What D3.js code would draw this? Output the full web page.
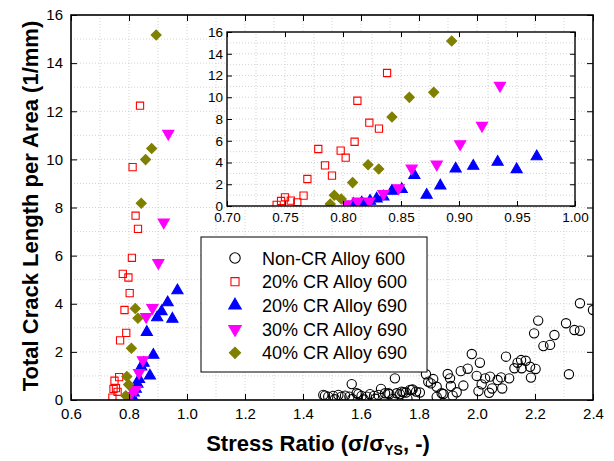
<!DOCTYPE html>
<html lang="en">
<head>
<meta charset="UTF-8">
<title>Crack length vs stress ratio</title>
<script src="https://d3js.org/d3.v7.min.js"></script>
<style>
  body { margin: 0; background: #fff; }
  text { font-family: "Liberation Sans", Arial, sans-serif; }
</style>
</head>
<body>
<div id="chart"></div>
<script>
// Non-CR Alloy 600 (open circles)
var nonCrX = [1.470,1.476,1.487,1.504,1.522,1.533,1.545,1.560,1.568,1.585,1.591,1.602,1.620,1.631,1.645,1.660,1.669,1.683,1.694,1.698,1.717,1.723,1.734,1.740,1.746,1.755,1.769,1.775,1.778,1.790,1.803,1.824,1.832,1.841,1.849,1.861,1.861,1.878,1.884,1.899,1.907,1.910,1.916,1.930,1.944,1.953,1.968,1.982,1.999,2.005,2.010,2.016,2.028,2.042,2.045,2.052,2.071,2.083,2.087,2.100,2.111,2.129,2.140,2.152,2.154,2.168,2.183,2.186,2.197,2.202,2.211,2.229,2.252,2.267,2.307,2.317,2.336,2.355,2.355,2.400,1.51,1.57,1.61,1.65,1.71,1.76];
var nonCrY = [0.21,0.18,0.14,0.17,0.21,0.14,0.18,0.14,0.66,0.28,0.24,0.17,0.14,0.24,0.17,0.21,0.46,0.28,0.28,0.24,0.90,0.28,0.24,0.35,0.32,0.31,0.42,0.42,0.44,0.35,0.31,1.07,0.76,0.69,0.87,0.55,0.13,0.28,0.25,1.08,0.90,0.58,0.18,0.32,1.20,0.60,1.30,1.91,1.00,0.37,1.55,0.65,0.90,0.30,0.97,0.48,0.83,0.94,0.48,1.80,0.90,1.32,1.55,1.66,1.32,1.63,1.38,0.93,2.77,1.29,3.30,2.24,2.29,2.70,3.19,1.07,2.91,2.88,4.02,3.74,0.03,0.04,0.02,0.05,0.04,0.06];

// 20% CR Alloy 600 (open squares)
var cr20a600X = [0.7428,0.7466,0.7500,0.7550,0.7606,0.7660,0.7693,0.7787,0.7845,0.7905,0.7980,0.8023,0.8100,0.8124,0.8227,0.8310,0.8380];
var cr20a600Y = [0.10,0.46,0.80,0.49,0.34,0.95,2.48,5.24,3.74,2.79,5.09,4.44,5.91,9.68,7.66,7.11,12.23];

// 20% CR Alloy 690 (up triangles)
var cr20a690X = [0.8089,0.8161,0.8233,0.8290,0.8348,0.8422,0.8506,0.8615,0.8721,0.8839,0.8971,0.9123,0.9333,0.9497,0.9670];
var cr20a690Y = [0.18,0.30,0.46,0.67,0.86,1.38,1.54,2.82,1.01,1.87,3.43,3.68,4.05,3.37,4.55];

// 30% CR Alloy 690 (down triangles)
var cr30a690X = [0.8032,0.8127,0.8227,0.8348,0.8480,0.8592,0.8808,0.9010,0.9198,0.9353];
var cr30a690Y = [0.18,0.43,0.43,1.13,1.66,3.46,3.83,5.70,7.39,11.07];

// 40% CR Alloy 690 (diamonds)
var cr40a690X = [0.7890,0.7925,0.7985,0.8083,0.8216,0.8308,0.8422,0.8572,0.8782,0.8937];
var cr40a690Y = [0.18,0.98,0.64,2.15,3.80,3.40,8.18,9.99,10.45,15.17];

var mainXTicks = [0.6,0.8,1.0,1.2,1.4,1.6,1.8,2.0,2.2,2.4];
var yTicks = [0,2,4,6,8,10,12,14,16];
var insetXTicks = [0.70,0.75,0.80,0.85,0.90,0.95,1.00];

var series = [
  {name: "Non-CR Alloy 600", xs: nonCrX, ys: nonCrY, shape: d3.symbolCircle, size: 68, rot: 0, fill: "none", stroke: "#000000"},
  {name: "20% CR Alloy 600", xs: cr20a600X, ys: cr20a600Y, shape: d3.symbolSquare, size: 52, rot: 0, fill: "none", stroke: "#ff0000"},
  {name: "20% CR Alloy 690", xs: cr20a690X, ys: cr20a690Y, shape: d3.symbolTriangle, size: 54, rot: 0, fill: "#0000ff", stroke: "#0000ff"},
  {name: "30% CR Alloy 690", xs: cr30a690X, ys: cr30a690Y, shape: d3.symbolTriangle, size: 54, rot: 180, fill: "#ff00ff", stroke: "#ff00ff"},
  {name: "40% CR Alloy 690", xs: cr40a690X, ys: cr40a690Y, shape: d3.symbolSquare, size: 50, rot: 45, fill: "#808000", stroke: "#808000"}
];

var width = 614, height = 461;
var svg = d3.select("#chart").append("svg")
  .attr("width", width).attr("height", height);

// draws one framed panel: grid, ticks on all sides, markers
function panel(g, x, y, opt) {
  var x0 = x.range()[0], x1 = x.range()[1], y0 = y.range()[0], y1 = y.range()[1];
  var id = opt.id;

  g.append("rect").attr("x", x0).attr("y", y1).attr("width", x1 - x0).attr("height", y0 - y1)
    .attr("fill", "#fff");

  // dotted grid at minor steps
  g.append("g").selectAll("line").data(opt.xGrid).enter().append("line")
    .attr("x1", d => x(d)).attr("x2", d => x(d)).attr("y1", y0).attr("y2", y1)
    .attr("stroke", "#c8c8c8").attr("stroke-width", 0.8).attr("stroke-dasharray", "1,2");
  g.append("g").selectAll("line").data(opt.yGrid).enter().append("line")
    .attr("y1", d => y(d)).attr("y2", d => y(d)).attr("x1", x0).attr("x2", x1)
    .attr("stroke", "#c8c8c8").attr("stroke-width", 0.8).attr("stroke-dasharray", "1,2");

  svg.append("clipPath").attr("id", id).append("rect")
    .attr("x", x0).attr("y", y1).attr("width", x1 - x0).attr("height", y0 - y1);

  var marks = g.append("g").attr("clip-path", "url(#" + id + ")");
  series.forEach(function(s) {
    var pts = s.xs.map((v, i) => [v, s.ys[i]]).filter(p => p[0] >= x.domain()[0] - 0.05 && p[0] <= x.domain()[1] + 0.05);
    marks.append("g").selectAll("path").data(pts).enter().append("path")
      .attr("d", d3.symbol().type(s.shape).size(s.size * opt.scale))
      .attr("transform", d => "translate(" + x(d[0]) + "," + y(d[1]) + ") rotate(" + s.rot + ")")
      .attr("fill", s.fill).attr("stroke", s.stroke).attr("stroke-width", 1.1);
  });

  var T = opt.tick;
  function axis(gen, scale, ticks, size, fmt, pad) {
    return gen(scale).tickValues(ticks).tickSizeInner(-size).tickSizeOuter(0).tickPadding(pad).tickFormat(fmt);
  }
  var bottom = g.append("g").attr("transform", "translate(0," + y0 + ")");
  bottom.call(axis(d3.axisBottom, x, opt.xMinor, T / 2, "", 0));
  bottom.call(axis(d3.axisBottom, x, opt.xMajor, T, opt.fmtX, opt.padX));
  var top = g.append("g").attr("transform", "translate(0," + y1 + ")");
  top.call(axis(d3.axisTop, x, opt.xMinor, T / 2, "", 0));
  top.call(axis(d3.axisTop, x, opt.xMajor, T, "", 0));
  var left = g.append("g").attr("transform", "translate(" + x0 + ",0)");
  left.call(axis(d3.axisLeft, y, opt.yMinor, T / 2, "", 0));
  left.call(axis(d3.axisLeft, y, yTicks, T, d3.format("d"), opt.padY));
  var right = g.append("g").attr("transform", "translate(" + x1 + ",0)");
  right.call(axis(d3.axisRight, y, opt.yMinor, T / 2, "", 0));
  right.call(axis(d3.axisRight, y, yTicks, T, "", 0));

  g.selectAll(".tick line").attr("stroke", "#000").attr("stroke-width", 1);
  g.selectAll(".domain").remove();
  g.selectAll(".tick text").attr("font-size", opt.font).attr("fill", "#000")
    .attr("font-family", "'Liberation Sans', Arial, sans-serif");

  g.append("rect").attr("x", x0).attr("y", y1).attr("width", x1 - x0).attr("height", y0 - y1)
    .attr("fill", "none").attr("stroke", "#000").attr("stroke-width", opt.frame);
}

// main panel
var x = d3.scaleLinear().domain([0.6, 2.4]).range([71, 593]);
var y = d3.scaleLinear().domain([0, 16]).range([400, 15]);
var mainG = svg.append("g");
panel(mainG, x, y, {
  id: "clipMain", scale: 1, tick: 6, padX: 8, padY: 8, font: 15, frame: 1.6,
  xMajor: mainXTicks, xMinor: d3.range(0.7, 2.4, 0.2), yMinor: d3.range(1, 16, 2),
  xGrid: d3.range(0.7, 2.35, 0.1), yGrid: d3.range(1, 16, 1),
  fmtX: d3.format(".1f")
});

svg.append("text").attr("x", 318).attr("y", 451).attr("text-anchor", "middle")
  .attr("font-size", 22).attr("font-weight", "bold")
  .html('Stress Ratio (σ/σ<tspan baseline-shift="-30%" font-size="14">YS</tspan>, -)');
svg.append("text").attr("transform", "translate(38,206) rotate(-90)").attr("text-anchor", "middle")
  .attr("font-size", 22).attr("font-weight", "bold")
  .text("Total Crack Length per Area (1/mm)");

// legend
var leg = svg.append("g");
leg.append("rect").attr("x", 201).attr("y", 237).attr("width", 226).attr("height", 135)
  .attr("fill", "#fff").attr("stroke", "#000").attr("stroke-width", 1);
series.forEach(function(s, i) {
  var cy = 258 + i * 23.7;
  leg.append("path").attr("d", d3.symbol().type(s.shape).size(s.size * 1.25))
    .attr("transform", "translate(235," + cy + ") rotate(" + s.rot + ")")
    .attr("fill", s.fill).attr("stroke", s.stroke).attr("stroke-width", 1.1);
  leg.append("text").attr("x", 262).attr("y", cy + 6.5).attr("font-size", 18).text(s.name);
});

// inset panel
var xi = d3.scaleLinear().domain([0.70, 1.00]).range([227, 575]);
var yi = d3.scaleLinear().domain([0, 16]).range([206, 32]);
var insetG = svg.append("g");
panel(insetG, xi, yi, {
  id: "clipInset", scale: 1, tick: 5, padX: 6, padY: 4, font: 13.5, frame: 1.4,
  xMajor: insetXTicks, xMinor: d3.range(0.725, 1.0, 0.05), yMinor: d3.range(1, 16, 2),
  xGrid: d3.range(0.725, 0.99, 0.025), yGrid: d3.range(1, 16, 1),
  fmtX: d3.format(".2f")
});
</script>
</body>
</html>
